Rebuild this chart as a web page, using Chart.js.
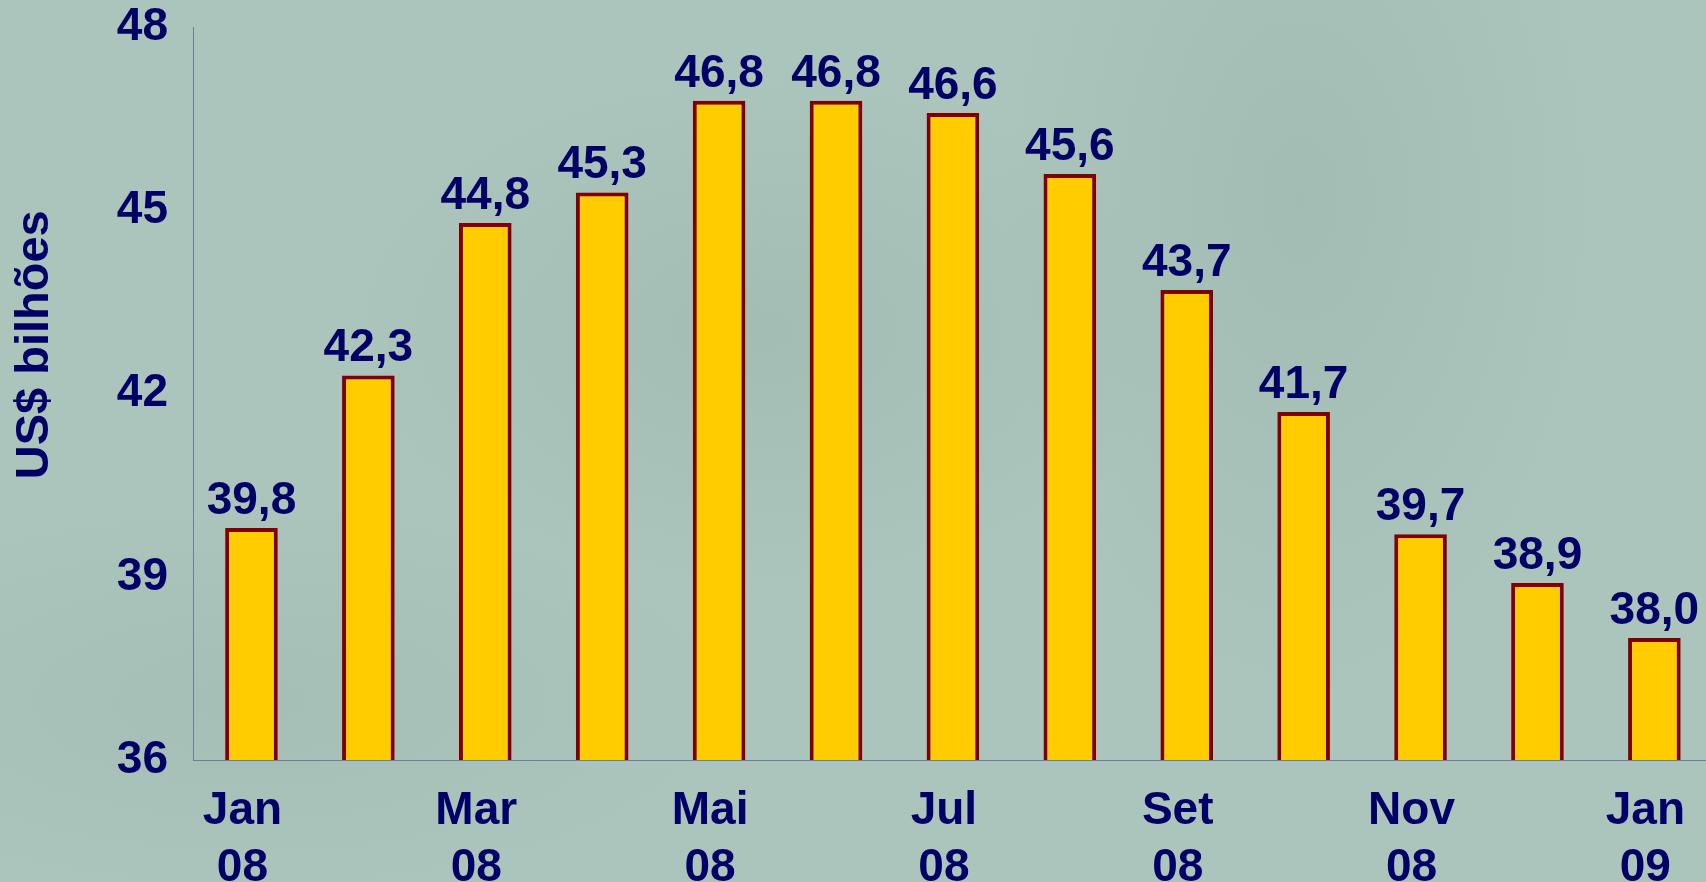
<!DOCTYPE html>
<html>
<head>
<meta charset="utf-8">
<title>Reservas internacionais</title>
<script src="https://cdn.jsdelivr.net/npm/chart.js@4/dist/chart.umd.min.js"></script>
<style>
  html, body {
    margin: 0;
    padding: 0;
    width: 1706px;
    height: 882px;
    overflow: hidden;
    background-color: #abc4bc;
    background-image:
      radial-gradient(ellipse 420px 260px at 760px 330px, rgba(120,145,137,0.16), rgba(120,145,137,0)),
      radial-gradient(ellipse 300px 500px at 1300px 200px, rgba(110,135,127,0.14), rgba(110,135,127,0)),
      radial-gradient(ellipse 500px 200px at 250px 700px, rgba(120,145,137,0.12), rgba(120,145,137,0));
  }
  #wrap { position: absolute; left: 0; top: 0; }
</style>
</head>
<body>
<div id="wrap">
  <canvas id="grafico" width="1717" height="882"></canvas>
</div>
<script>
// dados (US$ bilhões)
const meses = ["Jan 08", "Fev 08", "Mar 08", "Abr 08", "Mai 08", "Jun 08", "Jul 08",
               "Ago 08", "Set 08", "Out 08", "Nov 08", "Dez 08", "Jan 09"];
const valores = [39.8, 42.3, 44.8, 45.3, 46.8, 46.8, 46.6, 45.6, 43.7, 41.7, 39.7, 38.9, 38.0];
const rotulosX = [["Jan", "08"], "", ["Mar", "08"], "", ["Mai", "08"], "", ["Jul", "08"],
                  "", ["Set", "08"], "", ["Nov", "08"], "", ["Jan", "09"]];
const eixoY = { min: 36, max: 48, passo: 3 };
const tituloY = "US$ bilhões";

const azul = "#000066";
const fonte = "'Liberation Sans', Arial, sans-serif";

// valores em cima das barras + título do eixo Y
const rotulosPlugin = {
  id: "rotulos",
  afterDatasetsDraw(chart) {
    const ctx = chart.ctx;
    const meta = chart.getDatasetMeta(0);
    ctx.save();
    ctx.fillStyle = azul;
    ctx.font = "bold 46px " + fonte;
    ctx.textAlign = "center";
    ctx.textBaseline = "alphabetic";
    meta.data.forEach((bar, i) => {
      const txt = valores[i].toFixed(1).replace(".", ",");
      ctx.fillText(txt, bar.x, bar.y - 14);
    });
    ctx.restore();
  },
  afterDraw(chart) {
    const ctx = chart.ctx;
    const area = chart.chartArea;
    ctx.save();
    ctx.fillStyle = azul;
    ctx.font = "bold 47px " + fonte;
    ctx.textAlign = "center";
    ctx.textBaseline = "middle";
    ctx.translate(35, (area.top + area.bottom) / 2 - 49);
    ctx.rotate(-Math.PI / 2);
    ctx.fillText(tituloY, 0, 0);
    ctx.restore();
  }
};

const ctx = document.getElementById("grafico").getContext("2d");
new Chart(ctx, {
  type: "bar",
  data: {
    labels: meses,
    datasets: [{
      data: valores,
      backgroundColor: "#FFCC00",
      borderColor: "#800000",
      borderWidth: 4,
      borderSkipped: false,
      barPercentage: 0.45,
      categoryPercentage: 1
    }]
  },
  options: {
    responsive: false,
    animation: false,
    layout: { padding: 0 },
    plugins: {
      legend: { display: false },
      tooltip: { enabled: false }
    },
    scales: {
      x: {
        grid: { display: false, drawTicks: false },
        border: { display: true, color: "#6f7d9c", width: 1 },
        ticks: {
          color: azul,
          font: { family: fonte, size: 46, weight: "bold", lineHeight: 1.24 },
          padding: 23,
          labelOffset: -9,
          maxRotation: 0,
          autoSkip: false,
          callback: (v, i) => rotulosX[i]
        },
        afterFit: (scale) => { scale.height = 122; }
      },
      y: {
        min: eixoY.min,
        max: eixoY.max,
        // marcas invisíveis só para afastar os números do eixo
        grid: { display: true, drawOnChartArea: false, drawTicks: true, tickLength: 25, tickColor: "rgba(0,0,0,0)" },
        border: { display: true, color: "#6f7d9c", width: 1 },
        ticks: {
          stepSize: eixoY.passo,
          color: azul,
          font: { family: fonte, size: 46, weight: "bold" },
          padding: 0
        },
        afterFit: (scale) => { scale.width = 193; }
      }
    }
  },
  plugins: [rotulosPlugin]
});
</script>
</body>
</html>
